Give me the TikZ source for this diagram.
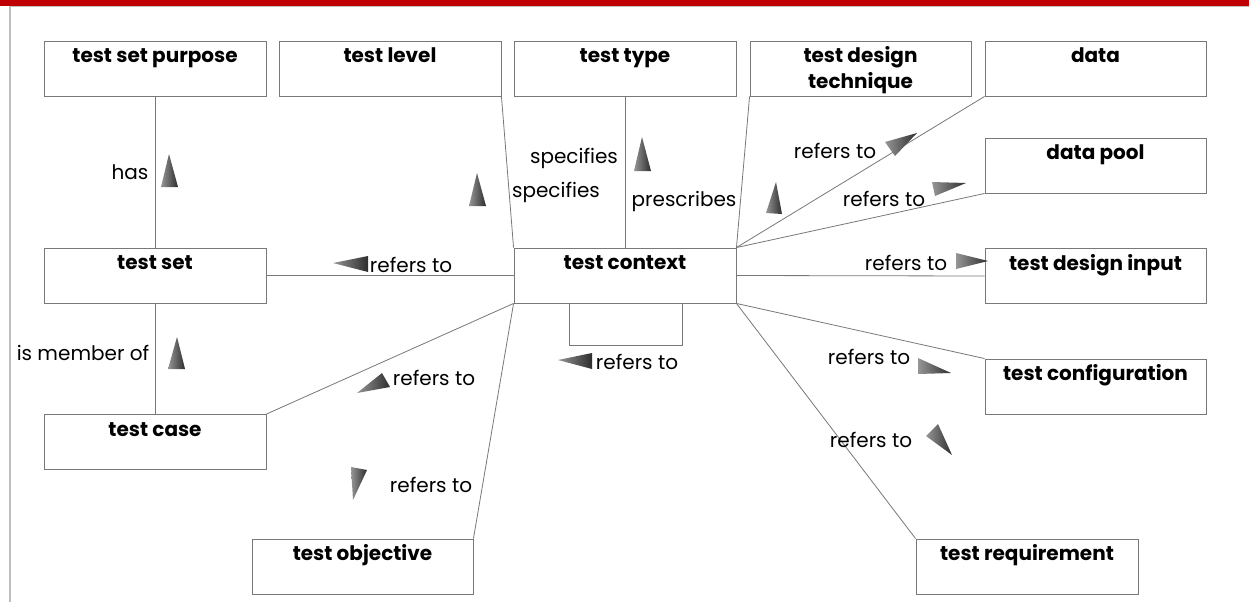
\documentclass[tikz,border=0pt]{standalone}
\usepackage{fontspec}
\setmainfont{Poppins}
\definecolor{barred}{RGB}{192,0,0}
\definecolor{edgegray}{RGB}{120,120,120}
\definecolor{framegray}{RGB}{190,190,190}
\definecolor{trilight}{RGB}{150,150,150}
\definecolor{tridark}{RGB}{45,45,45}
\tikzset{
  box/.style={draw=edgegray, line width=0.9pt, minimum width=222pt, minimum height=55pt, inner sep=0pt},
  title/.style={font=\fontsize{20}{26}\selectfont\bfseries, align=center, inner sep=0pt, anchor=base},
  lab/.style={font=\fontsize{20}{24}\selectfont, inner sep=0pt, anchor=base},
  conn/.style={draw=edgegray, line width=0.8pt},
  tri/.style={left color=trilight, right color=tridark}
}
\begin{document}
\begin{tikzpicture}[x=1pt,y=-1pt]
\useasboundingbox (0,0) rectangle (1249,602);
\fill[white] (0,0) rectangle (1249,602);
% frame
\fill[barred] (0,0) rectangle (1249,6);
\draw[framegray, line width=1pt] (10,6.5) -- (1249,6.5);
\draw[framegray, line width=2pt] (10,6) -- (10,602);
% boxes
\node[box] (tsp) at (155,68.5) {};
\node[box] (tl) at (390,68.5) {};
\node[box] (tt) at (625,68.5) {};
\node[box, minimum width=221pt] (tdt) at (860.5,68.5) {};
\node[box, minimum width=221pt] (data) at (1095.5,68.5) {};
\node[box, minimum width=221pt] (dp) at (1095.5,165.5) {};
\node[box, minimum width=221pt] (tdi) at (1095.5,276) {};
\node[box] (tc) at (625,275.5) {};
\node[box] (ts) at (155,275.5) {};
\node[box] (tcase) at (155,442) {};
\node[box, minimum width=221pt] (tobj) at (362.5,566.5) {};
\node[box, minimum width=221pt] (tconf) at (1095.5,386.5) {};
\node[box] (treq) at (1027,566.5) {};
\node[draw=edgegray, line width=0.9pt, minimum width=113pt, minimum height=42pt, inner sep=0pt] (loop) at (625.5,324) {};
% titles (baseline 22pt below box top)
\node[title] at ([yshift=-22pt]tsp.north) {test set purpose};
\node[title] at ([yshift=-22pt]tl.north) {test level};
\node[title] at ([yshift=-22pt]tt.north) {test type};
\node[title, anchor=north] at ([yshift=-6pt]tdt.north) {test design\\technique};
\node[title] at ([yshift=-22pt]data.north) {data};
\node[title] at ([yshift=-22pt]dp.north) {data pool};
\node[title] at ([yshift=-22pt]tdi.north) {test design input};
\node[title] at ([yshift=-22pt]tc.north) {test context};
\node[title] at ([yshift=-22pt]ts.north) {test set};
\node[title] at ([yshift=-22pt]tcase.north) {test case};
\node[title] at ([yshift=-22pt]tobj.north) {test objective};
\node[title] at ([yshift=-22pt]tconf.north) {test configuration};
\node[title] at ([yshift=-22pt]treq.north) {test requirement};
% connectors
\draw[conn] (tsp.south) -- (ts.north);
\draw[conn] (ts.south) -- (tcase.north);
\draw[conn] (tl.south east) -- (tc.north west);
\draw[conn] (tt.south) -- (tc.north);
\draw[conn] (tdt.south west) -- (tc.north east);
\draw[conn] (data.south west) -- (tc.north east);
\draw[conn] (dp.south west) -- (tc.north east);
\draw[conn] (ts.east) -- (tc.west);
\draw[conn] (tc.east) -- (tdi.west);
\draw[conn] (tc.south west) -- (tcase.north east);
\draw[conn] (tc.south west) -- (tobj.north east);
\draw[conn] (tc.south east) -- (tconf.north west);
\draw[conn] (tc.south east) -- (treq.north west);
% labels (base = visual centre + 7)
\node[lab] at (130,179) {has};
\node[lab] at (83,360) {is member of};
\node[lab] at (411,272) {refers to};
\node[lab] at (574,163) {specifies};
\node[lab] at (556,197) {specifies};
\node[lab] at (684,206) {prescribes};
\node[lab] at (835,158) {refers to};
\node[lab] at (884,206) {refers to};
\node[lab] at (906,270) {refers to};
\node[lab] at (637,369) {refers to};
\node[lab] at (869,364) {refers to};
\node[lab] at (871,447) {refers to};
\node[lab] at (434,385) {refers to};
\node[lab] at (431,492) {refers to};
% triangles
\shade[tri] (169,154) -- (161,187) -- (178,187) -- cycle;
\shade[tri] (177,337) -- (168,369) -- (185,369) -- cycle;
\shade[tri] (333,263) -- (368,256) -- (368,272) -- cycle;
\shade[tri] (477,173) -- (469,206) -- (486,206) -- cycle;
\shade[tri] (642,137) -- (634,171) -- (651,171) -- cycle;
\shade[tri] (776,182) -- (766,213) -- (782,214) -- cycle;
\shade[tri] (885,142) -- (917,133) -- (895,156) -- cycle;
\shade[tri] (932,182) -- (966,183) -- (935,196) -- cycle;
\shade[tri] (956,253) -- (988,261) -- (956,269) -- cycle;
\shade[tri] (558,360) -- (592,353) -- (592,369) -- cycle;
\shade[tri] (918,358) -- (951,373) -- (918,374) -- cycle;
\shade[tri] (938,424) -- (926,436) -- (952,455) -- cycle;
\shade[tri] (357,393) -- (382,373) -- (390,387) -- cycle;
\shade[tri] (351,467) -- (367,470) -- (353,500) -- cycle;
\end{tikzpicture}
\end{document}
